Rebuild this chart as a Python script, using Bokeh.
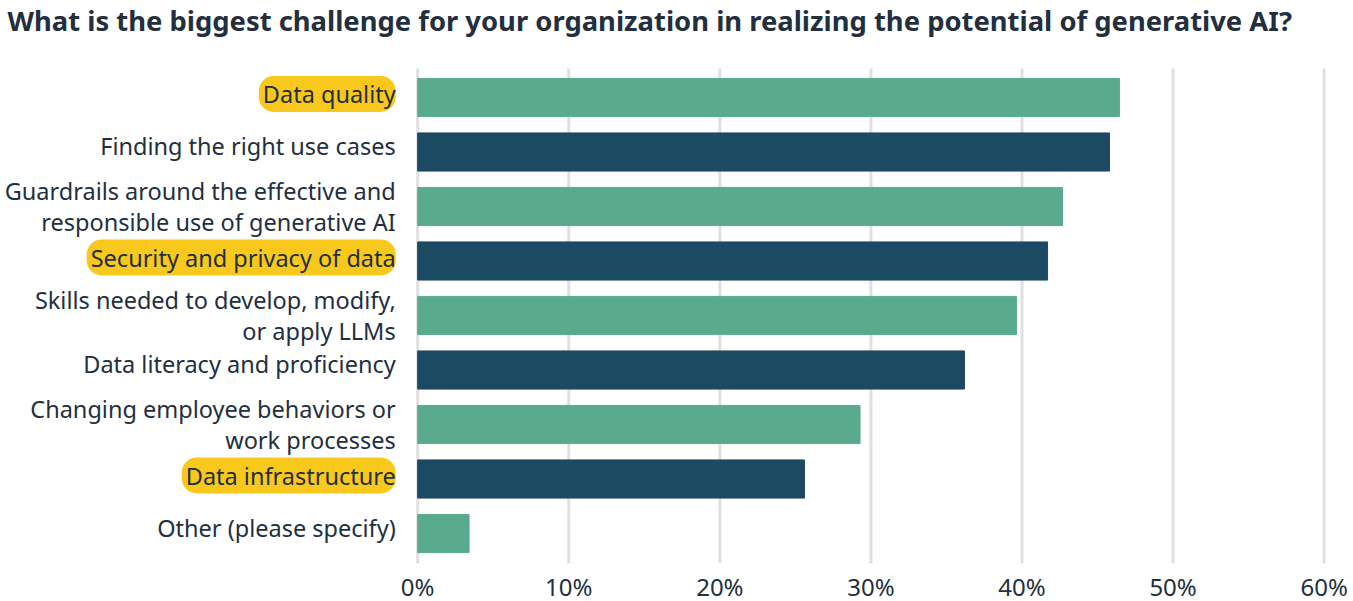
from bokeh.plotting import figure
from bokeh.models import Range1d, FixedTicker, ColumnDataSource
from bokeh.core.properties import value
from bokeh.embed import file_html
from bokeh.resources import INLINE

title_text = "What is the biggest challenge for your organization in realizing the potential of generative AI?"
categories = [
    "Data quality",
    "Finding the right use cases",
    "Guardrails around the effective and\nresponsible use of generative AI",
    "Security and privacy of data",
    "Skills needed to develop, modify,\nor apply LLMs",
    "Data literacy and proficiency",
    "Changing employee behaviors or\nwork processes",
    "Data infrastructure",
    "Other (please specify)",
]
values = [0.4645, 0.4579, 0.4268, 0.4169, 0.3963, 0.3619, 0.2928, 0.2560, 0.034]
highlighted = [True, False, False, True, False, False, False, True, False]
tick_values = [0, 0.1, 0.2, 0.3, 0.4, 0.5, 0.6]
tick_labels = ["0%", "10%", "20%", "30%", "40%", "50%", "60%"]

GREEN = "#5aab8e"
NAVY = "#1c4a63"
TEXT = "#232f3e"
YELLOW = "#f8c81c"
GRID = "#e0e0e0"
FONT = "Noto Sans"

colors = [GREEN if i % 2 == 0 else NAVY for i in range(len(categories))]
idx = list(range(len(categories)))

# layout (pixels)
W, H = 1353, 601
X0 = 417.2        # pixel of 0%
PXU = 1510.8      # pixels per 100%
Y0 = 97.0         # pixel of first row centre
ROW = 54.5        # pixels per row
FB = 563          # frame bottom
FW = 1326

x_start = -X0 / PXU
x_end = (FW - X0) / PXU
y_top = -Y0 / ROW
y_bot = (FB - Y0) / ROW
grid_top = (68 - Y0) / ROW

p = figure(width=W, height=H, output_backend="svg", toolbar_location=None,
           x_range=Range1d(x_start, x_end), y_range=Range1d(y_bot, y_top),
           min_border_left=0, min_border_right=W - FW,
           min_border_top=0, min_border_bottom=H - FB,
           frame_width=FW, frame_height=FB)
p.outline_line_color = None
p.background_fill_color = "white"
p.border_fill_color = "white"
p.xgrid.grid_line_color = None
p.ygrid.grid_line_color = None

# vertical gridlines at the tick values
p.segment(x0=tick_values, x1=tick_values, y0=grid_top, y1=y_bot,
          line_color=GRID, line_width=3)

src = ColumnDataSource(dict(y=idx, right=values, color=colors))
p.hbar(y="y", left=0, right="right", height=0.7, color="color", source=src)

p.xaxis.ticker = FixedTicker(ticks=tick_values)
p.xaxis.major_label_overrides = {v: l for v, l in zip(tick_values, tick_labels)}
p.xaxis.axis_line_color = None
p.xaxis.major_tick_line_color = None
p.xaxis.minor_tick_line_color = None
p.xaxis.major_label_text_font = FONT
p.xaxis.major_label_text_font_size = "24px"
p.xaxis.major_label_text_color = TEXT
p.xaxis.major_label_standoff = 0

p.yaxis.visible = False


def shift(cat, hl):
    if "\n" in cat:
        return 0
    return -3.5 if hl else -6


hl = ColumnDataSource(dict(
    y=[i for i in idx if highlighted[i]],
    text=[c for c, h in zip(categories, highlighted) if h],
    dy=[shift(c, h) for c, h in zip(categories, highlighted) if h]))
labels = ColumnDataSource(dict(
    y=idx, text=categories,
    dy=[shift(c, h) for c, h in zip(categories, highlighted)]))

common = dict(x=0, y="y", text="text", x_offset=-22, y_offset="dy", text_align="right",
              text_baseline="middle", text_font=value(FONT), text_font_size="23.5px")
# highlighter marks behind highlighted labels
p.text(source=hl, text_color=TEXT, text_alpha=0, background_fill_color=YELLOW,
       padding=(0, 4, 0, 4), border_radius=15, **common)
p.text(source=labels, text_color=TEXT, text_line_height=0.94, **common)

# title
p.text(x=[x_start], y=[(19.5 - Y0) / ROW], text=[title_text], x_offset=7,
       text_align="left", text_baseline="middle", text_font=value(FONT),
       text_font_style="bold", text_font_size="27.4px", text_color=TEXT)

open("out.html", "w").write(file_html(p, INLINE))
